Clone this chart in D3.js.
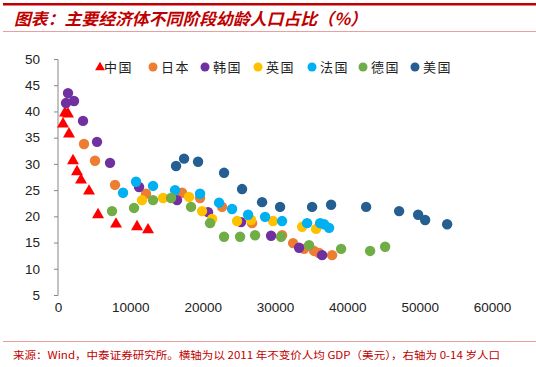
<!DOCTYPE html>
<html><head><meta charset="utf-8">
<script src="https://cdn.jsdelivr.net/npm/d3@7"></script>
<style>
html,body{margin:0;padding:0;background:#fff;}
svg{display:block;}
</style></head>
<body><svg id="c" width="536" height="367"></svg>
<script>
// ---- data: [GDP per capita (2011 USD), share of population aged 0-14 (%)] ----
const seriesNames = ["中国","日本","韩国","英国","法国","德国","美国"];
const china = [[968,39.9],[1383,39.7],[692,37.8],[1521,35.9],[2075,30.8],[2628,28.7],[3181,27.1],[4288,25.0],[5533,20.5],[8022,18.7],[10927,18.2],[12448,17.6]];
const japan = [[3596,33.8],[5117,30.6],[7883,26.0],[12170,24.3],[17149,24.5],[19639,23.5],[22681,21.8],[26830,18.7],[30979,16.4],[32500,14.9],[34022,13.8],[35405,13.4],[36096,13.0],[37894,12.6]];
const korea = [[1383,43.5],[1106,41.6],[2213,42.0],[3458,38.2],[5394,34.2],[7192,30.2],[11202,25.6],[16458,23.1],[20745,20.8],[25309,18.9],[29458,16.3],[33330,14.0],[36511,12.6]];
const uk = [[11617,23.1],[14522,23.5],[18117,23.7],[19915,21.0],[21298,19.5],[24755,19.1],[26691,19.3],[29734,19.1],[33745,18.0],[35681,17.6]];
const france = [[8990,24.5],[10787,26.6],[13139,25.8],[16181,25.0],[19639,24.3],[22267,22.6],[24065,21.4],[26278,20.3],[28629,19.9],[30979,19.1],[34436,18.7],[36235,18.7],[36788,18.5],[37479,17.8]];
const germany = [[7468,21.0],[10511,21.6],[13139,23.1],[15628,23.5],[18394,21.8],[21022,18.7],[22958,16.1],[25171,16.1],[27245,16.4],[30841,16.1],[34713,14.5],[39139,13.8],[43150,13.4],[45224,14.2]];
const usa = [[16319,29.6],[17426,31.0],[19362,30.4],[22958,28.3],[25447,25.2],[28213,22.7],[30702,21.8],[35128,21.8],[37756,22.2],[42596,21.8],[47160,21.0],[49788,20.3],[50756,19.3],[53799,18.5]];
const xTicks = [0,10000,20000,30000,40000,50000,60000];
const yTicks = [5,10,15,20,25,30,35,40,45,50];
const titleText = "图表：主要经济体不同阶段幼龄人口占比（%）";
const sourceText = "来源：Wind，中泰证券研究所。横轴为以 2011 年不变价人均 GDP（美元），右轴为 0-14 岁人口";

const allSeries = [china, japan, korea, uk, france, germany, usa];
const colors = ["#FF0000","#ED7D31","#7030A0","#FFC000","#00B0F0","#70AD47","#255E91"];
const shapes = ["tri","c","c","c","c","c","c"];

const svg = d3.select("#c");
const red = "#C00000";

// header / footer rules
svg.append("rect").attr("x",3).attr("y",3).attr("width",533).attr("height",2.5).attr("fill",red);
svg.append("line").attr("x1",3).attr("x2",536).attr("y1",31.5).attr("y2",31.5).attr("stroke","#E8A0A0").attr("stroke-width",1);
svg.append("line").attr("x1",3).attr("x2",536).attr("y1",341.5).attr("y2",341.5).attr("stroke","#E8A0A0").attr("stroke-width",1);

svg.append("text").attr("x",14).attr("y",25)
  .attr("font-family","'Noto Sans CJK SC'").attr("font-size",16.5).attr("font-style","italic")
  .attr("font-weight","bold").attr("fill",red).attr("textLength",353).attr("lengthAdjust","spacingAndGlyphs")
  .text(titleText);

svg.append("text").attr("x",13).attr("y",359)
  .attr("font-family","'Noto Sans CJK SC'").attr("font-size",10.5)
  .attr("fill",red).attr("textLength",487).attr("lengthAdjust","spacingAndGlyphs")
  .text(sourceText);

// scales
const x = d3.scaleLinear().domain([0,60000]).range([58,492]);
const y = d3.scaleLinear().domain([5,50]).range([295,59]);

// y axis
const ya = svg.append("g").attr("transform","translate(58,0)")
  .call(d3.axisLeft(y).tickValues(yTicks).tickSize(4).tickPadding(14).tickFormat(d3.format("d")));
ya.select(".domain").attr("stroke","#868686").attr("d","M-4,59.5H0V295.5H-4");
ya.selectAll(".tick line").attr("stroke","#868686");
ya.selectAll("text").attr("font-family","'Liberation Sans', Arial").attr("font-size",13.5).attr("fill","#222");

// x axis labels (no line)
const xa = svg.append("g").attr("transform","translate(0,302)")
  .call(d3.axisBottom(x).tickValues(xTicks).tickSize(0).tickPadding(0).tickFormat(d3.format("d")));
xa.select(".domain").remove();
xa.selectAll("text").attr("font-family","'Liberation Sans', Arial").attr("font-size",13.5).attr("fill","#222");

// points
const triPath = d3.symbol().type(d3.symbolTriangle).size(62)();
allSeries.forEach((s,i)=>{
  const g = svg.append("g");
  if (shapes[i]==="tri") {
    g.selectAll("path").data(s).join("path")
      .attr("d",triPath).attr("transform",d=>`translate(${x(d[0])},${y(d[1])+1})`)
      .attr("fill",colors[i]);
  } else {
    g.selectAll("circle").data(s).join("circle")
      .attr("cx",d=>x(d[0])).attr("cy",d=>y(d[1])).attr("r",5.2)
      .attr("fill",colors[i]);
  }
});

// legend
const legX = [100,153,205,258,312,363,415];
const lg = svg.append("g");
seriesNames.forEach((n,i)=>{
  if (shapes[i]==="tri") {
    lg.append("path").attr("d",d3.symbol().type(d3.symbolTriangle).size(42)())
      .attr("transform",`translate(${legX[i]},${67.5})`).attr("fill",colors[i]);
  } else {
    lg.append("circle").attr("cx",legX[i]).attr("cy",67).attr("r",4.5).attr("fill",colors[i]);
  }
  lg.append("text").attr("x",legX[i]+(i===0?4:8)).attr("y",72)
    .attr("font-family","'Noto Sans CJK SC'").attr("font-size",13).attr("fill","#222")
    .attr("letter-spacing",1.5).text(n);
});
</script>
</body></html>
